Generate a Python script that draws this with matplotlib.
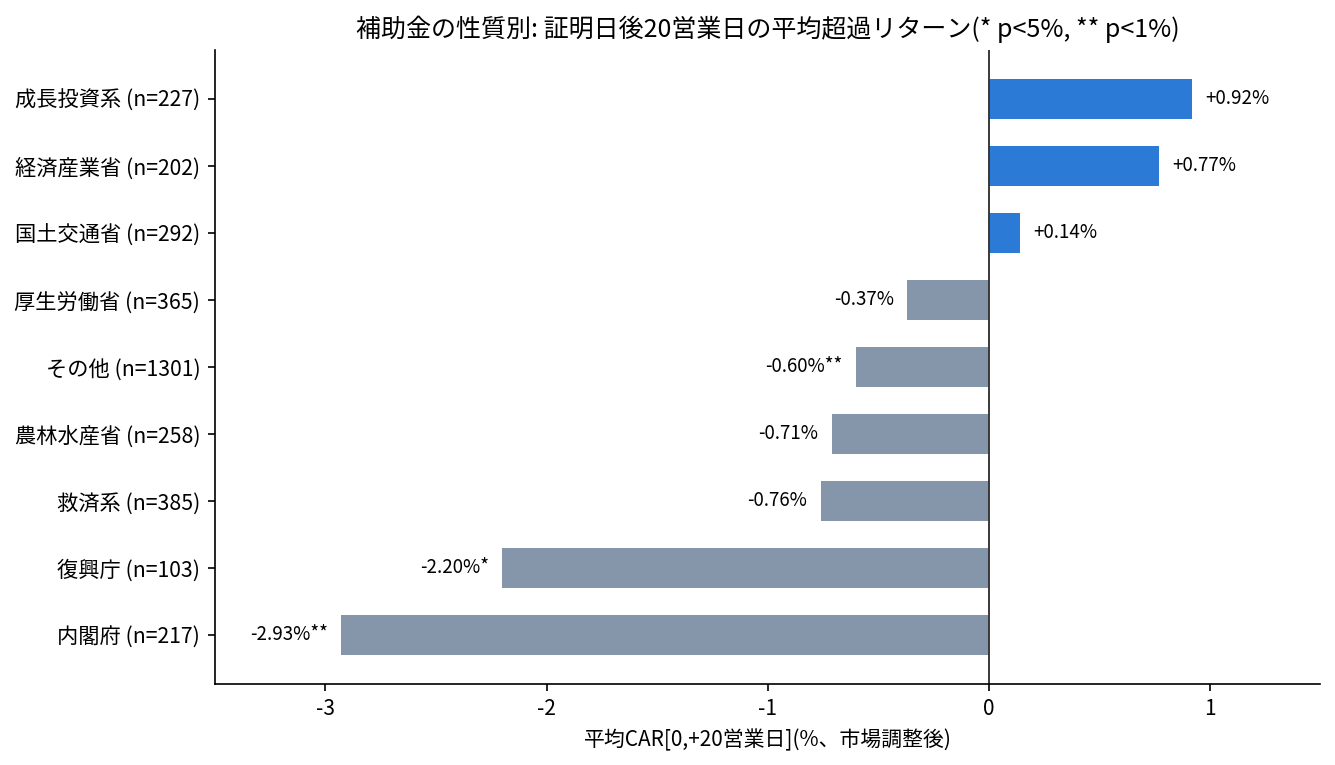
import numpy as np
import matplotlib
matplotlib.use("Agg")
import matplotlib.pyplot as plt

plt.rcParams["font.family"] = ["Noto Sans CJK JP", "DejaVu Sans"]

# --- data (top to bottom) ---
categories = ["成長投資系", "経済産業省", "国土交通省", "厚生労働省", "その他",
              "農林水産省", "救済系", "復興庁", "内閣府"]
counts = [227, 202, 292, 365, 1301, 258, 385, 103, 217]
car_mean = [0.92, 0.77, 0.14, -0.37, -0.60, -0.71, -0.76, -2.20, -2.93]
stars = ["", "", "", "", "**", "", "", "*", "**"]

POS_COLOR = "#2b7ad6"
NEG_COLOR = "#8596aa"

fig, ax = plt.subplots(figsize=(8.9, 5.1), dpi=150)

y = np.arange(len(categories))[::-1]
colors = [POS_COLOR if v > 0 else NEG_COLOR for v in car_mean]
ax.barh(y, car_mean, height=0.6, color=colors)
ax.axvline(0, color="#333333", lw=0.9)

for yi, v, s in zip(y, car_mean, stars):
    label = f"{v:+.2f}%{s}"
    if v >= 0:
        ax.text(v + 0.06, yi, label, va="center", ha="left", fontsize=9)
    else:
        ax.text(v - 0.06, yi, label, va="center", ha="right", fontsize=9)

ax.set_yticks(y)
ax.set_yticklabels([f"{c} (n={n})" for c, n in zip(categories, counts)],
                   fontsize=10.2)
ax.set_xlim(-3.5, 1.5)
ax.set_xticks([-3, -2, -1, 0, 1])
ax.set_xticklabels(["-3", "-2", "-1", "0", "1"])
ax.set_xlabel("平均CAR[0,+20営業日](%、市場調整後)")
ax.set_title("補助金の性質別: 証明日後20営業日の平均超過リターン(* p<5%, ** p<1%)",
             fontsize=12)
ax.spines["top"].set_visible(False)
ax.spines["right"].set_visible(False)

fig.subplots_adjust(left=0.161, right=0.989, top=0.935, bottom=0.106)
fig.savefig("out.png", dpi=150)
plt.close(fig)
